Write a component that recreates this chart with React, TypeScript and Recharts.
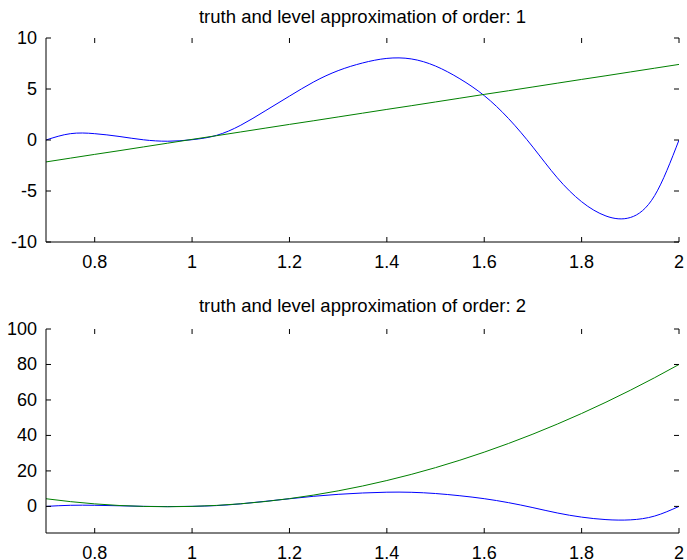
import React from "react";
import { LineChart, Line, XAxis, YAxis } from "recharts";

// sample positions along x
const xs = [
  0.7, 0.75, 0.8, 0.85, 0.9, 0.95, 1.0, 1.05, 1.1, 1.15, 1.2, 1.25, 1.3, 1.35,
  1.4, 1.45, 1.5, 1.55, 1.6, 1.65, 1.7, 1.75, 1.8, 1.85, 1.9, 1.95, 2.0,
];

// truth (blue)
const truth = [
  0, 0.62, 0.62, 0.35, 0.02, -0.12, 0.03, 0.45, 1.45, 2.85, 4.3, 5.7, 6.8, 7.55,
  8.0, 7.95, 7.25, 6.0, 4.35, 2.1, -0.7, -3.7, -6.05, -7.45, -7.6, -5.45, 0,
];

// level approximation, order 1 (green, top)
const approx1 = [
  -2.15, -1.78, -1.41, -1.05, -0.68, -0.31, 0.06, 0.42, 0.79, 1.16, 1.53, 1.89,
  2.26, 2.63, 3.0, 3.36, 3.73, 4.1, 4.47, 4.83, 5.2, 5.57, 5.94, 6.3, 6.67,
  7.04, 7.41,
];

// level approximation, order 2 (green, bottom)
const approx2 = [
  4.31, 2.69, 1.42, 0.52, -0.01, -0.19, 0, 0.55, 1.47, 2.74, 4.38, 6.39, 8.75,
  11.48, 14.58, 18.03, 21.85, 26.03, 30.58, 35.48, 40.75, 46.39, 52.38, 58.74,
  65.47, 72.55, 80,
];

const xTicks = [0.8, 1, 1.2, 1.4, 1.6, 1.8, 2];
const yTicks1 = [-10, -5, 0, 5, 10];
const yTicks2 = [0, 20, 40, 60, 80, 100];

const rows1 = xs.map((x, i) => ({ x, truth: truth[i], approx: approx1[i] }));
const rows2 = xs.map((x, i) => ({ x, truth: truth[i], approx: approx2[i] }));

const W = 687;
const H = 280;
const PLOT_W = 633;
const PLOT_H = 204;
const FONT = "'Liberation Sans', Arial, sans-serif";
const TICK = 5;

const XTick = (props: any) => {
  const { x, y, payload } = props;
  return (
    <g>
      <line x1={x} x2={x} y1={y} y2={y - TICK} stroke="#000" />
      <line x1={x} x2={x} y1={y - PLOT_H} y2={y - PLOT_H + TICK} stroke="#000" />
      <text
        x={x}
        y={y + 19.5}
        textAnchor="middle"
        dominantBaseline="central"
        fontSize={18}
        fontFamily={FONT}
        fill="#000"
      >
        {String(payload.value)}
      </text>
    </g>
  );
};

const YTick = (props: any) => {
  const { x, y, payload } = props;
  return (
    <g>
      <line x1={x} x2={x + TICK} y1={y} y2={y} stroke="#000" />
      <line x1={x + PLOT_W} x2={x + PLOT_W - TICK} y1={y} y2={y} stroke="#000" />
      <text
        x={x - 9}
        y={y}
        textAnchor="end"
        dominantBaseline="central"
        fontSize={18}
        fontFamily={FONT}
        fill="#000"
      >
        {String(payload.value)}
      </text>
    </g>
  );
};

const Panel = ({
  rows,
  yDomain,
  yTicks,
  top,
  bottom,
  smoothApprox,
}: {
  rows: any[];
  yDomain: [number, number];
  yTicks: number[];
  top: number;
  bottom: number;
  smoothApprox: boolean;
}) => (
  <LineChart
    width={W}
    height={H}
    data={rows}
    margin={{ top, right: 8, bottom: 0, left: 0 }}
  >
    <XAxis
      dataKey="x"
      type="number"
      domain={[0.7, 2]}
      ticks={xTicks}
      allowDataOverflow
      height={bottom}
      tickSize={0}
      tickMargin={0}
      tick={XTick}
      axisLine={{ stroke: "#000" }}
      interval={0}
    />
    <XAxis
      xAxisId="top"
      orientation="top"
      type="number"
      domain={[0.7, 2]}
      height={0}
      tick={false}
      tickLine={false}
      axisLine={{ stroke: "#000" }}
    />
    <YAxis
      type="number"
      domain={yDomain}
      ticks={yTicks}
      allowDataOverflow
      width={46}
      tickSize={0}
      tickMargin={0}
      tick={YTick}
      axisLine={{ stroke: "#000" }}
      interval={0}
    />
    <YAxis
      yAxisId="right"
      orientation="right"
      type="number"
      domain={yDomain}
      width={0}
      tick={false}
      tickLine={false}
      axisLine={{ stroke: "#000" }}
    />
    <Line
      dataKey="truth"
      type="natural"
      stroke="#0000ff"
      strokeWidth={1}
      dot={false}
      isAnimationActive={false}
    />
    <Line
      dataKey="approx"
      type={smoothApprox ? "natural" : "linear"}
      stroke="#008000"
      strokeWidth={1}
      dot={false}
      isAnimationActive={false}
    />
  </LineChart>
);

const titleStyle = (top: number): React.CSSProperties => ({
  position: "absolute",
  top,
  left: 46,
  width: PLOT_W,
  textAlign: "center",
  fontFamily: FONT,
  fontSize: 18.5,
  lineHeight: "20px",
  color: "#000",
  whiteSpace: "nowrap",
});

export default function App() {
  return (
    <div
      style={{
        position: "absolute",
        left: 0,
        top: 0,
        width: W,
        height: 560,
        background: "#fff",
      }}
    >
      <div style={{ position: "absolute", left: 0, top: 0 }}>
        <Panel
          rows={rows1}
          yDomain={[-10, 10]}
          yTicks={yTicks1}
          top={38}
          bottom={38}
          smoothApprox={false}
        />
      </div>
      <div style={{ position: "absolute", left: 0, top: 280 }}>
        <Panel
          rows={rows2}
          yDomain={[-15, 100]}
          yTicks={yTicks2}
          top={49}
          bottom={27}
          smoothApprox={true}
        />
      </div>
      <div style={titleStyle(7)}>truth and level approximation of order: 1</div>
      <div style={titleStyle(296)}>truth and level approximation of order: 2</div>
    </div>
  );
}
